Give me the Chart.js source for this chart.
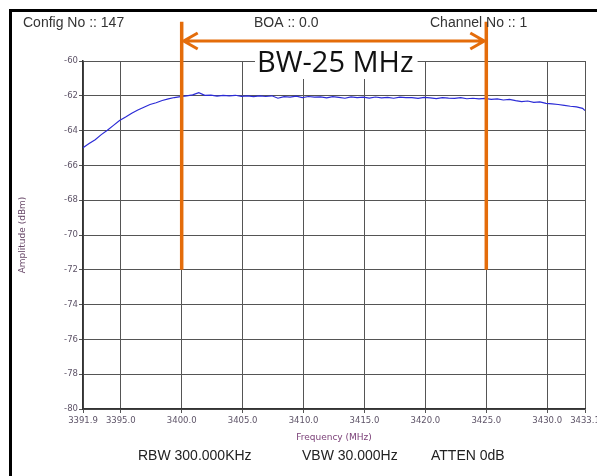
<!DOCTYPE html>
<html>
<head>
<meta charset="utf-8">
<script src="https://cdn.jsdelivr.net/npm/chart.js@4.4.1/dist/chart.umd.min.js"></script>
<style>
  html, body { margin: 0; padding: 0; background: #fff; }
  #wrap { width: 597px; height: 476px; }
</style>
</head>
<body>
<div id="wrap"><canvas id="spectrum"></canvas></div>
<script>
// frequency points (MHz) and measured amplitude (dBm)
const freqs = [
  3391.9, 3392.4, 3392.9, 3393.4, 3393.9, 3394.4, 3394.9, 3395.4, 3395.9, 3396.4,
  3396.9, 3397.4, 3397.9, 3398.4, 3398.9, 3399.4, 3399.9, 3400.4, 3400.9, 3401.4,
  3401.9, 3402.4, 3402.9, 3403.4, 3403.9, 3404.4, 3404.9, 3405.4, 3405.9, 3406.4,
  3406.9, 3407.4, 3407.9, 3408.4, 3408.9, 3409.4, 3409.9, 3410.4, 3410.9, 3411.4,
  3411.9, 3412.4, 3412.9, 3413.4, 3413.9, 3414.4, 3414.9, 3415.4, 3415.9, 3416.4,
  3416.9, 3417.4, 3417.9, 3418.4, 3418.9, 3419.4, 3419.9, 3420.4, 3420.9, 3421.4,
  3421.9, 3422.4, 3422.9, 3423.4, 3423.9, 3424.4, 3424.9, 3425.4, 3425.9, 3426.4,
  3426.9, 3427.4, 3427.9, 3428.4, 3428.9, 3429.4, 3429.9, 3430.4, 3430.9, 3431.4,
  3431.9, 3432.4, 3432.9, 3433.1
];
const amplitude = [
  -64.98, -64.74, -64.52, -64.23, -63.98, -63.70, -63.42, -63.22, -63.00, -62.82,
  -62.66, -62.50, -62.40, -62.27, -62.18, -62.10, -62.05, -62.00, -61.95, -61.82,
  -61.97, -61.96, -62.02, -61.98, -62.00, -61.97, -62.03, -62.00, -62.05, -62.01,
  -62.04, -62.00, -62.14, -62.05, -62.08, -62.02, -62.10, -62.04, -62.08, -62.06,
  -62.12, -62.05, -62.09, -62.14, -62.06, -62.10, -62.08, -62.13, -62.07, -62.12,
  -62.09, -62.14, -62.08, -62.11, -62.10, -62.15, -62.09, -62.12, -62.16, -62.10,
  -62.13, -62.15, -62.11, -62.17, -62.14, -62.18, -62.15, -62.20, -62.18, -62.24,
  -62.21, -62.28, -62.33, -62.30, -62.38, -62.35, -62.43, -62.46, -62.50, -62.55,
  -62.60, -62.64, -62.72, -62.85
];
const xTicks = [3391.9, 3395.0, 3400.0, 3405.0, 3410.0, 3415.0, 3420.0, 3425.0, 3430.0, 3433.1];

// bandwidth markers (MHz) and their vertical extent (dBm units)
const bwStart = 3400.0;
const bwEnd = 3425.0;
const markerTop = -57.75;
const markerBottom = -72;
const arrowLevel = -58.85;
const bwLabel = 'BW-25 MHz';

const headerTexts = ['Config No :: 147', 'BOA :: 0.0', 'Channel No :: 1'];
const footerTexts = ['RBW 300.000KHz', 'VBW 30.000Hz', 'ATTEN 0dB'];

const orange = '#e46c0a';

const decorations = {
  id: 'decorations',
  beforeDraw(chart) {
    const ctx = chart.ctx;
    ctx.save();
    ctx.fillStyle = '#fff';
    ctx.fillRect(0, 0, chart.width, chart.height);
    ctx.restore();
  },
  afterDatasetsDraw(chart) {
    const ctx = chart.ctx;
    const x = chart.scales.x, y = chart.scales.y;
    const x1 = x.getPixelForValue(bwStart), x2 = x.getPixelForValue(bwEnd);
    const yTop = y.getPixelForValue(markerTop), yBot = y.getPixelForValue(markerBottom);
    const yArr = y.getPixelForValue(arrowLevel);
    ctx.save();

    // label box
    ctx.font = '29px "Open Sans", "Noto Sans", sans-serif';
    ctx.textBaseline = 'middle';
    ctx.textAlign = 'left';
    const tw = ctx.measureText(bwLabel).width;
    ctx.fillStyle = '#fff';
    ctx.fillRect(255, 49, tw + 6, 30);
    ctx.fillStyle = '#111';
    ctx.fillText(bwLabel, 257, 64);

    ctx.strokeStyle = orange;
    ctx.lineWidth = 3.5;
    ctx.lineCap = 'butt';
    ctx.beginPath();
    ctx.moveTo(x1, yTop); ctx.lineTo(x1, yBot);
    ctx.moveTo(x2, yTop); ctx.lineTo(x2, yBot);
    ctx.stroke();

    ctx.lineWidth = 3;
    ctx.beginPath();
    ctx.moveTo(x1 + 2, yArr); ctx.lineTo(x2 - 2, yArr);
    ctx.moveTo(x1 + 16, yArr - 8); ctx.lineTo(x1 + 2, yArr); ctx.lineTo(x1 + 16, yArr + 8);
    ctx.moveTo(x2 - 16, yArr - 8); ctx.lineTo(x2 - 2, yArr); ctx.lineTo(x2 - 16, yArr + 8);
    ctx.stroke();
    ctx.restore();
  },
  afterDraw(chart) {
    const ctx = chart.ctx;
    ctx.save();
    // frame
    ctx.strokeStyle = '#000';
    ctx.lineWidth = 3;
    ctx.strokeRect(10.5, 10.5, 620, 500);

    ctx.font = '14px "Liberation Sans", Arial, sans-serif';
    ctx.fillStyle = '#333';
    ctx.textBaseline = 'alphabetic';
    ctx.textAlign = 'left';
    ctx.fillText(headerTexts[0], 23, 27);
    ctx.fillText(headerTexts[1], 254, 27);
    ctx.fillText(headerTexts[2], 430, 27);

    ctx.fillStyle = '#222';
    ctx.fillText(footerTexts[0], 138, 460);
    ctx.fillText(footerTexts[1], 302, 460);
    ctx.fillText(footerTexts[2], 431, 460);
    ctx.restore();
  }
};

new Chart(document.getElementById('spectrum'), {
  type: 'line',
  data: {
    labels: freqs,
    datasets: [{
      data: freqs.map((f, i) => ({ x: f, y: amplitude[i] })),
      borderColor: '#2b2bd6',
      borderWidth: 1.2,
      pointRadius: 0,
      tension: 0,
      fill: false
    }]
  },
  options: {
    responsive: true,
    maintainAspectRatio: false,
    animation: false,
    layout: { padding: { top: 61, right: 12, left: 0, bottom: 0 } },
    plugins: {
      legend: { display: false },
      tooltip: { enabled: false }
    },
    scales: {
      x: {
        type: 'linear',
        min: 3391.9,
        max: 3433.1,
        afterBuildTicks: (scale) => { scale.ticks = xTicks.map(v => ({ value: v })); },
        afterFit: (scale) => {
          scale.height = 67;
          scale.paddingLeft = 0;
          scale.paddingRight = 0;
        },
        ticks: {
          autoSkip: false,
          maxRotation: 0,
          padding: 3,
          color: '#5e5468',
          font: { family: '"DejaVu Sans", sans-serif', size: 8.5 },
          callback: (v) => Number(v).toFixed(1)
        },
        grid: { color: '#555', lineWidth: 1, tickLength: 4 },
        border: { color: '#333', width: 1.5 },
        title: {
          display: true,
          text: 'Frequency (MHz)',
          color: '#7a3f77',
          font: { family: '"DejaVu Sans", sans-serif', size: 9 },
          padding: { top: 0, bottom: 33 }
        }
      },
      y: {
        min: -80,
        max: -60,
        afterFit: (scale) => { scale.width = 83; },
        ticks: {
          stepSize: 2,
          padding: 1,
          color: '#5e5468',
          font: { family: '"DejaVu Sans", sans-serif', size: 8.5 }
        },
        grid: { color: '#555', lineWidth: 1, tickLength: 4 },
        border: { color: '#333', width: 1.5 },
        title: {
          display: true,
          text: 'Amplitude (dBm)',
          color: '#6a4a6a',
          font: { family: '"DejaVu Sans", sans-serif', size: 9 },
          padding: { top: 17, bottom: 0 }
        }
      }
    }
  },
  plugins: [decorations]
});
</script>
</body>
</html>
